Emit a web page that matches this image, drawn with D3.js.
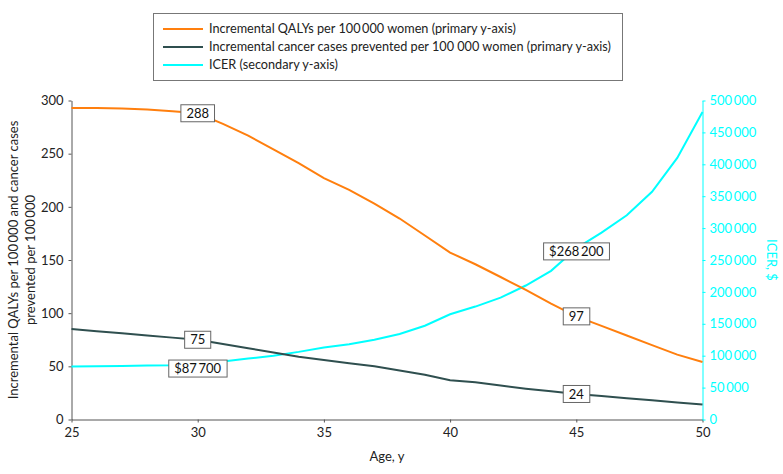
<!DOCTYPE html>
<html><head><meta charset="utf-8">
<script src="https://cdn.jsdelivr.net/npm/d3@7"></script>
<style>
body{margin:0;background:#fff;}
svg{font-family:Lato, "Open Sans", sans-serif;}
</style></head>
<body><svg id="c" width="783" height="474"></svg>
<script>
const ages = [25,26,27,28,29,30,31,32,33,34,35,36,37,38,39,40,41,42,43,44,45,46,47,48,49,50];
const qalys = [293,293,292.5,291.5,290,288,278,267,254,241,227,216,203,189,173,157,146,134,122,109,97,88,79,70,61,54];
const cases = [85,83,81,79,77,75,71,67,63,59,56,53,50,46,42,37,35,32,29,26.5,24,22,20,18,16,14];
const icer = [83000,83500,84000,84500,85000,87700,91000,95500,100000,106000,113000,118000,125000,134000,147000,165000,177000,191000,210000,233000,268200,293000,320000,357000,410000,482000];
const xTicks = [25,30,35,40,45,50];
const yLeftTicks = [0,50,100,150,200,250,300];
const yRightTicks = [0,50000,100000,150000,200000,250000,300000,350000,400000,450000,500000];
const legendLabels = ["Incremental QALYs per 100\u2009000 women (primary y-axis)","Incremental cancer cases prevented per 100 000 women (primary y-axis)","ICER (secondary y-axis)"];
const annotations = [
  {series:"q", age:30, text:"288"},
  {series:"c", age:30, text:"75"},
  {series:"i", age:30, text:"$87\u2009700"},
  {series:"i", age:45, text:"$268\u2009200"},
  {series:"q", age:45, text:"97"},
  {series:"c", age:45, text:"24"}
];
const colors = {q:"#ff7f0e", c:"#2f4f4f", i:"#00ffff"};

const svg = d3.select("#c");
const L=71.5, R=702.5, T=100.5, B=419.5;
const x = d3.scaleLinear().domain([25,50]).range([L,R]);
const yL = d3.scaleLinear().domain([0,300]).range([B,T]);
const yR = d3.scaleLinear().domain([0,500000]).range([B,T]);
const fmt = v => d3.format(",")(v).replace(/,/g,"\u2009");

// axes
const gx = svg.append("g").attr("transform",`translate(0,${B})`)
  .call(d3.axisBottom(x).tickValues(xTicks).tickSize(3).tickPadding(5).tickSizeOuter(0));
const gl = svg.append("g").attr("transform",`translate(${L},0)`)
  .call(d3.axisLeft(yL).tickValues(yLeftTicks).tickSize(3).tickPadding(5).tickSizeOuter(0));
const gr = svg.append("g").attr("transform",`translate(${R},0)`)
  .call(d3.axisRight(yR).tickValues(yRightTicks).tickFormat(fmt).tickSize(3).tickPadding(4).tickSizeOuter(0));
[gx,gl].forEach(g=>{
  g.selectAll("path,line").attr("stroke","#555");
  g.selectAll("text").attr("fill","#222").style("font-size","13px").style("font-family","Lato");
});
gr.selectAll("path,line").attr("stroke","#00ffff");
gr.selectAll("text").attr("fill","#00ffff").style("font-size","13px").style("font-family","Lato");

// axis titles
svg.append("text").attr("x",(L+R)/2).attr("y",461).attr("text-anchor","middle")
  .style("font-size","13px").attr("fill","#222").text("Age, y");
const lt = svg.append("text").attr("transform",`translate(13,${(T+B)/2}) rotate(-90)`)
  .attr("text-anchor","middle").style("font-size","13px").attr("fill","#222");
lt.append("tspan").attr("x",0).attr("dy","0.35em").text("Incremental QALYs per 100\u2009000 and cancer cases");
lt.append("tspan").attr("x",0).attr("dy","1.35em").text("prevented per 100\u2009000");
svg.append("text").attr("transform",`translate(772,${(T+B)/2}) rotate(90)`)
  .attr("text-anchor","middle").attr("dy","0.35em").style("font-size","13px").attr("fill","#00ffff").text("ICER, $");

// lines
const lineL = d3.line().x((d,i)=>x(ages[i])).y(d=>yL(d));
const lineR = d3.line().x((d,i)=>x(ages[i])).y(d=>yR(d));
svg.append("path").datum(icer).attr("d",lineR).attr("fill","none").attr("stroke",colors.i).attr("stroke-width",2);
svg.append("path").datum(cases).attr("d",lineL).attr("fill","none").attr("stroke",colors.c).attr("stroke-width",2);
svg.append("path").datum(qalys).attr("d",lineL).attr("fill","none").attr("stroke",colors.q).attr("stroke-width",2);

// annotations
annotations.forEach(a=>{
  const i = ages.indexOf(a.age);
  const cx = x(a.age);
  let cy = a.series==="q"? yL(qalys[i]) : a.series==="c"? yL(cases[i]) : yR(icer[i]);
  if(a.series==="i") cy += (a.age===30?5:3);
  const g = svg.append("g");
  const t = g.append("text").attr("x",cx).attr("y",cy).attr("dy","0.36em").attr("text-anchor","middle")
    .style("font-size","13px").attr("fill","#111").text(a.text);
  const bb = t.node().getBBox();
  g.insert("rect","text").attr("x",bb.x-5.5).attr("y",cy-8.5).attr("width",bb.width+11).attr("height",17)
    .attr("fill","#fff").attr("stroke","#666").attr("stroke-width",1);
});

// legend
const lg = svg.append("g");
lg.append("rect").attr("x",153.5).attr("y",13.5).attr("width",469).attr("height",67)
  .attr("fill","#fff").attr("stroke","#777");
legendLabels.forEach((lab,k)=>{
  const yy = 29 + k*18;
  const key = ["q","c","i"][k];
  lg.append("line").attr("x1",163).attr("x2",203).attr("y1",yy).attr("y2",yy).attr("stroke",colors[key]).attr("stroke-width",2);
  lg.append("text").attr("x",209).attr("y",yy).attr("dy","0.35em").style("font-size","12.7px").attr("fill","#222").text(lab);
});
</script></body></html>
